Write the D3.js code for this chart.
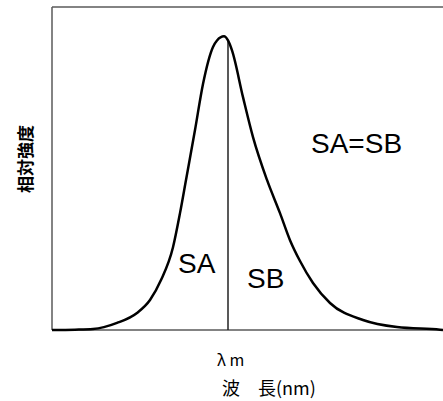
<!DOCTYPE html>
<html>
<head>
<meta charset="utf-8">
<script src="https://cdn.jsdelivr.net/npm/d3@7"></script>
<style>
  body { margin: 0; background: #fff; }
  svg { display: block; }
</style>
</head>
<body>
<svg id="chart" width="443" height="401"></svg>
<script>
// Spectrum shape: wavelength offset from λm (arbitrary units) vs relative intensity
const waveOffsets = [-176, -153, -135, -111, -91, -78, -67, -55, -48, -42, -33, -25, -15, -11, -4,
                     0, 4, 15, 25, 39, 52, 62, 72, 85, 102, 135, 169, 212, 215];
const intensities = [0, 0.001, 0.003, 0.024, 0.058, 0.102, 0.17, 0.282, 0.398, 0.511, 0.681, 0.838, 0.964, 0.986, 1.0,
                     0.986, 0.952, 0.793, 0.657, 0.511, 0.398, 0.306, 0.235, 0.16, 0.092, 0.034, 0.01, 0.001, 0];
const lambdaM = 0;
const areaLabels = ['SA', 'SB', 'SA=SB'];
const axisTexts = { y: '相対強度', xTick: 'λ m', x: '波\u3000長(nm)' };

const margin = { top: 7, right: 0, bottom: 71, left: 52 };
const width = 443, height = 401;

const svg = d3.select('#chart');

const x = d3.scaleLinear()
    .domain([-176, 215])
    .range([margin.left, width - margin.right]);
const y = d3.scaleLinear()
    .domain([0, 1.1])
    .range([height - margin.bottom, margin.top]);

const data = waveOffsets.map((w, i) => ({ w: w, v: intensities[i] }));

// frame: left, top, bottom (right side runs off the picture)
const frame = svg.append('g')
    .attr('stroke', '#5a5a5a')
    .attr('stroke-width', 1.5)
    .attr('fill', 'none');
frame.append('line')
    .attr('x1', x(-176)).attr('x2', x(-176))
    .attr('y1', y(1.1)).attr('y2', y(0));
frame.append('line')
    .attr('x1', x(-176)).attr('x2', width)
    .attr('y1', y(1.1)).attr('y2', y(1.1));
frame.append('line')
    .attr('x1', x(-176)).attr('x2', width)
    .attr('y1', y(0)).attr('y2', y(0));

// peak wavelength marker
svg.append('line')
    .attr('x1', x(lambdaM)).attr('x2', x(lambdaM))
    .attr('y1', y(0.986)).attr('y2', y(0))
    .attr('stroke', '#222')
    .attr('stroke-width', 1.5);

// spectrum curve
const line = d3.line()
    .x(d => x(d.w))
    .y(d => y(d.v))
    .curve(d3.curveMonotoneX);

svg.append('path')
    .datum(data)
    .attr('d', line)
    .attr('fill', 'none')
    .attr('stroke', '#000')
    .attr('stroke-width', 2.5)
    .attr('stroke-linejoin', 'round');

// area labels
const labelFont = '"Liberation Sans", Arial, sans-serif';
svg.append('text')
    .attr('x', 178).attr('y', 273)
    .attr('font-family', labelFont).attr('font-size', 28)
    .text(areaLabels[0]);
svg.append('text')
    .attr('x', 247).attr('y', 288)
    .attr('font-family', labelFont).attr('font-size', 28)
    .text(areaLabels[1]);
svg.append('text')
    .attr('x', 311).attr('y', 153)
    .attr('font-family', labelFont).attr('font-size', 28)
    .text(areaLabels[2]);

// axis texts
const jpFont = '"Noto Sans CJK JP", "Noto Sans", sans-serif';
svg.append('text')
    .attr('transform', 'translate(32,159) rotate(-90)')
    .attr('text-anchor', 'middle')
    .attr('font-family', jpFont)
    .attr('font-size', 17)
    .attr('font-weight', 700)
    .text(axisTexts.y);

svg.append('text')
    .attr('x', x(lambdaM) - 11).attr('y', 366)
    .attr('font-family', jpFont)
    .attr('font-size', 16)
    .text(axisTexts.xTick);

svg.append('text')
    .attr('x', 222).attr('y', 395)
    .attr('font-family', jpFont)
    .attr('font-size', 18)
    .text(axisTexts.x);
</script>
</body>
</html>
